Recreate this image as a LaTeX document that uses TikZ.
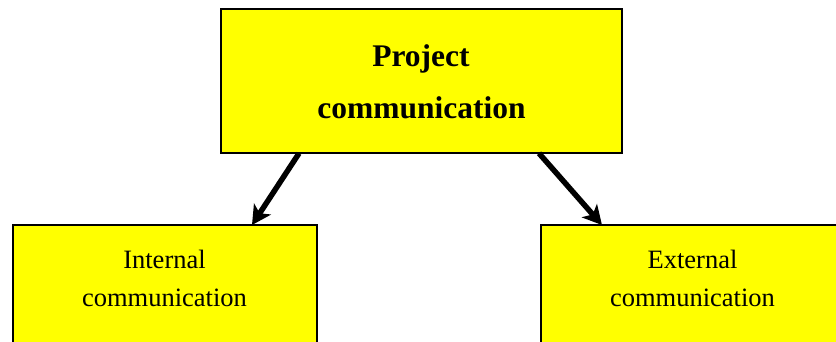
\documentclass[tikz,border=0pt]{standalone}
\usepackage{fontspec}
\setmainfont{Liberation Serif}
\usetikzlibrary{arrows.meta}
\definecolor{boxyellow}{RGB}{255,255,0}
\tikzset{
  box/.style={draw=black, line width=2pt, fill=boxyellow, rectangle, inner sep=0pt},
  headtext/.style={anchor=base, inner sep=0pt, font=\fontsize{31.5}{37}\selectfont\bfseries},
  subtext/.style={anchor=base, inner sep=0pt, font=\fontsize{26.5}{32}\selectfont},
  flow/.style={line width=5.5pt, -{Stealth[length=19pt,width=20pt,inset=5pt]}}
}
\begin{document}
\begin{tikzpicture}[x=1pt,y=-1pt]
  \useasboundingbox (0,0) rectangle (836,341);
  \clip (0,0) rectangle (836,341);
  % boxes (the lower two run past the page edge)
  \node[box, minimum width=401pt, minimum height=144.6pt] (top) at (421.2,81) {};
  \node[box, minimum width=304pt, minimum height=140pt] (left) at (164.7,295) {};
  \node[box, minimum width=304pt, minimum height=140pt] (right) at (692.7,295) {};
  % labels
  \node[headtext] (t1) at (421,66.7) {Project};
  \node[headtext] (t2) at (421.5,118.3) {communication};
  \node[subtext] (l1) at (164.5,268.3) {Internal};
  \node[subtext] (l2) at (164.5,306.7) {communication};
  \node[subtext] (r1) at (692.5,268.3) {External};
  \node[subtext] (r2) at (692.5,306.7) {communication};
  % connectors
  \draw[flow] ([xshift=79.3pt,yshift=1pt]top.south west) -- ([xshift=240.3pt,yshift=-1pt]left.north west);
  \draw[flow] ([xshift=319.3pt,yshift=1pt]top.south west) -- ([xshift=62.3pt,yshift=-1pt]right.north west);
\end{tikzpicture}
\end{document}
